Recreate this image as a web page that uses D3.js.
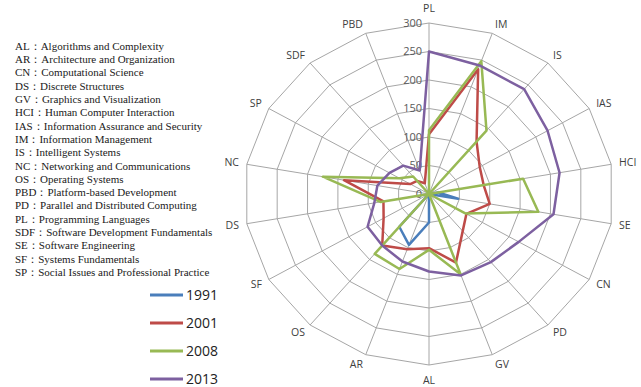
<!DOCTYPE html>
<html>
<head>
<meta charset="utf-8">
<script src="https://cdn.jsdelivr.net/npm/d3@7"></script>
<style>
  body { margin: 0; background: white; }
  svg { display: block; }
</style>
</head>
<body>
<div class="radar"></div>
<script>

// axes, clockwise from the top
var axes = ["PL","IM","IS","IAS","HCI","SE","CN","PD","GV","AL","AR","OS","SF","DS","NC","SP","SDF","PBD"];

var years = ["1991","2001","2008","2013"];

var v1991 = [0, 0, 0, 0, 15, 48, 0, 0, 0, 50, 95, 75, 0, 0, 0, 0, 0, 0];
var v2001 = [105, 233, 120, 95, 90, 100, 70, 85, 128, 95, 103, 118, 85, 75, 140, 35, 30, 20];
var v2008 = [112, 248, 145, 0, 155, 180, 68, 0, 150, 98, 140, 137, 0, 80, 175, 55, 40, 0];
var v2013 = [250, 240, 240, 222, 215, 205, 168, 156, 152, 136, 126, 118, 115, 90, 85, 74, 65, 44];

var ticks = [0, 50, 100, 150, 200, 250, 300];

var glossary = [
  "AL：Algorithms and Complexity",
  "AR：Architecture and Organization",
  "CN：Computational Science",
  "DS：Discrete Structures",
  "GV：Graphics and Visualization",
  "HCI：Human Computer Interaction",
  "IAS：Information Assurance and Security",
  "IM：Information Management",
  "IS：Intelligent Systems",
  "NC：Networking and Communications",
  "OS：Operating Systems",
  "PBD：Platform-based Development",
  "PD：Parallel and Distributed Computing",
  "PL：Programming Languages",
  "SDF：Software Development Fundamentals",
  "SE：Software Engineering",
  "SF：Systems Fundamentals",
  "SP：Social Issues and Professional Practice"
];

var colors = {
  "1991": "#4a7ebb",
  "2001": "#be4b48",
  "2008": "#98b954",
  "2013": "#7d60a0"
};

function radar() {

  var width = 641;
  var height = 387;
  var cx = 429;
  var cy = 194;

  // the picture is a little wider than tall, so two radii
  var rx = d3.scaleLinear().domain([0, 300]).range([0, 185]);
  var ry = d3.scaleLinear().domain([0, 300]).range([0, 171]);

  var step = 2 * Math.PI / axes.length;

  function px(i, v) { return cx + rx(v) * Math.sin(i * step); }
  function py(i, v) { return cy - ry(v) * Math.cos(i * step); }

  var svg = d3.select(".radar").append("svg")
    .attr("width", width)
    .attr("height", height);

  // rings
  var ring = d3.line()
    .x(d => px(d.i, d.v))
    .y(d => py(d.i, d.v))
    .curve(d3.curveLinearClosed);

  svg.append("g")
    .selectAll("path")
    .data(ticks.filter(t => t > 0))
    .enter()
    .append("path")
    .attr("d", t => ring(axes.map((a, i) => ({i: i, v: t}))))
    .attr("fill", "none")
    .attr("stroke", "#a6a6a6")
    .attr("stroke-width", 1);

  // spokes
  svg.append("g")
    .selectAll("line")
    .data(axes)
    .enter()
    .append("line")
    .attr("x1", cx)
    .attr("y1", cy)
    .attr("x2", (d, i) => px(i, 300))
    .attr("y2", (d, i) => py(i, 300))
    .attr("stroke", "#a6a6a6")
    .attr("stroke-width", 1);

  // tick values along PL
  svg.append("g")
    .selectAll("text")
    .data(ticks)
    .enter()
    .append("text")
    .text(d => d)
    .attr("x", cx - 7)
    .attr("y", d => cy - ry(d))
    .attr("dy", "0.35em")
    .style("text-anchor", "end")
    .style("font-family", "'Open Sans', sans-serif")
    .style("font-size", "11px")
    .style("fill", "#595959");

  // axis names
  svg.append("g")
    .selectAll("text")
    .data(axes)
    .enter()
    .append("text")
    .text(d => d)
    .attr("x", (d, i) => {
      var s = Math.sin(i * step);
      return cx + (rx(300) + 8) * s;
    })
    .attr("y", (d, i) => {
      var s = Math.sin(i * step), c = Math.cos(i * step);
      var pad = Math.abs(s) < 0.1 ? 15 : 10;
      return cy - (ry(300) + pad) * c;
    })
    .attr("dy", "0.35em")
    .style("text-anchor", (d, i) => {
      var s = Math.sin(i * step);
      if (s > 0.1) { return "start"; }
      else if (s < -0.1) { return "end"; }
      return "middle";
    })
    .style("font-family", "'Open Sans', sans-serif")
    .style("font-size", "10.5px")
    .style("fill", "#404040");

  // series
  var series = [v1991, v2001, v2008, v2013];

  svg.append("g")
    .selectAll("path")
    .data(series)
    .enter()
    .append("path")
    .attr("d", vals => ring(vals.map((v, i) => ({i: i, v: v}))))
    .attr("fill", "none")
    .attr("stroke", (d, k) => colors[years[k]])
    .attr("stroke-width", 2.5)
    .attr("stroke-linejoin", "round");

  // glossary on the left
  svg.append("g")
    .selectAll("text")
    .data(glossary)
    .enter()
    .append("text")
    .text(d => d)
    .attr("x", 15)
    .attr("y", (d, i) => 46 + i * 13.3)
    .attr("dy", "0.35em")
    .style("font-family", "'Liberation Serif', 'Times New Roman', serif")
    .style("font-size", "11px")
    .style("fill", "#1a1a1a");

  // legend
  var legend = svg.append("g")
    .selectAll("g")
    .data(years)
    .enter()
    .append("g")
    .attr("transform", (d, i) => "translate(150," + (295 + i * 28) + ")");

  legend.append("line")
    .attr("x1", 0)
    .attr("x2", 33)
    .attr("y1", 0)
    .attr("y2", 0)
    .attr("stroke", d => colors[d])
    .attr("stroke-width", 3);

  legend.append("text")
    .text(d => d)
    .attr("x", 36)
    .attr("y", 0)
    .attr("dy", "0.35em")
    .style("font-family", "'Open Sans', sans-serif")
    .style("font-size", "14px")
    .style("fill", "#222");
}

radar();
</script>
</body>
</html>
